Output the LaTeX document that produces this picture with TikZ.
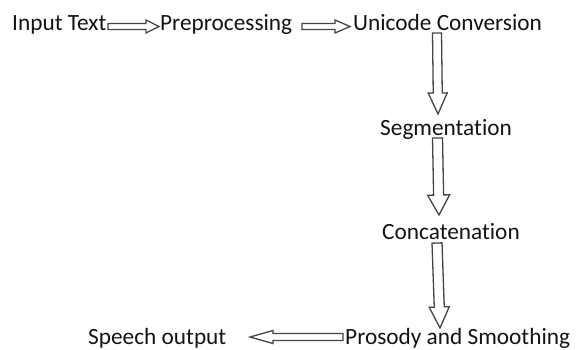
\documentclass[tikz,border=0pt]{standalone}
\usepackage{fontspec}
\setmainfont{Carlito}[RawFeature={-liga;-clig}]
\usetikzlibrary{calc}
\definecolor{txt}{HTML}{141414}
\definecolor{arr}{HTML}{454545}
\tikzset{
  lbl/.style={anchor=base west, inner sep=0pt, text=txt, font=\fontsize{23.3}{28}\selectfont},
  blockarrow/.style={draw=arr, fill=white, line width=1.3pt, line join=miter}
}
\newcommand\blkarrow[5]{%
  \draw[blockarrow] ($(#1)!#3!90:(#2)$) -- ($(#2)!#5!(#1)!#3!-90:(#1)$) -- ($(#2)!#5!(#1)!#4!-90:(#1)$) -- (#2) -- ($(#2)!#5!(#1)!#4!90:(#1)$) -- ($(#2)!#5!(#1)!#3!90:(#1)$) -- ($(#1)!#3!-90:(#2)$) -- cycle;}
\begin{document}
\begin{tikzpicture}[x=1pt,y=-1pt]
\useasboundingbox[fill=white] (0,0) rectangle (577,349);
\node[lbl] (input) at (12,30) {Input Text};
\node[lbl] (pre) at (160,30) {Preprocessing};
\node[lbl] (uni) at (353,30) {Unicode Conversion};
\node[lbl] (seg) at (380,135) {Segmentation};
\node[lbl] (conc) at (382,239) {Concatenation};
\node[lbl] (pros) at (345,344) {Prosody and Smoothing};
\node[lbl] (speech) at (88,344) {Speech output};
\coordinate (a1s) at (108,26.5); \coordinate (a1e) at (159,26.5);
\coordinate (a2s) at (302,26.5); \coordinate (a2e) at (350,26.5);
\coordinate (a3s) at (437,33);   \coordinate (a3e) at (438,114);
\coordinate (a4s) at (437.5,138);\coordinate (a4e) at (439,215);
\coordinate (a5s) at (437,243);  \coordinate (a5e) at (440,328);
\coordinate (a6s) at (343,337);  \coordinate (a6e) at (250,337);
\blkarrow{a1s}{a1e}{3pt}{6.5pt}{13pt}
\blkarrow{a2s}{a2e}{3pt}{6.5pt}{15pt}
\blkarrow{a3s}{a3e}{4.5pt}{9.5pt}{21pt}
\blkarrow{a4s}{a4e}{5pt}{11pt}{20pt}
\blkarrow{a5s}{a5e}{5pt}{10pt}{21pt}
\blkarrow{a6s}{a6e}{3.5pt}{6.5pt}{23pt}
\end{tikzpicture}
\end{document}
